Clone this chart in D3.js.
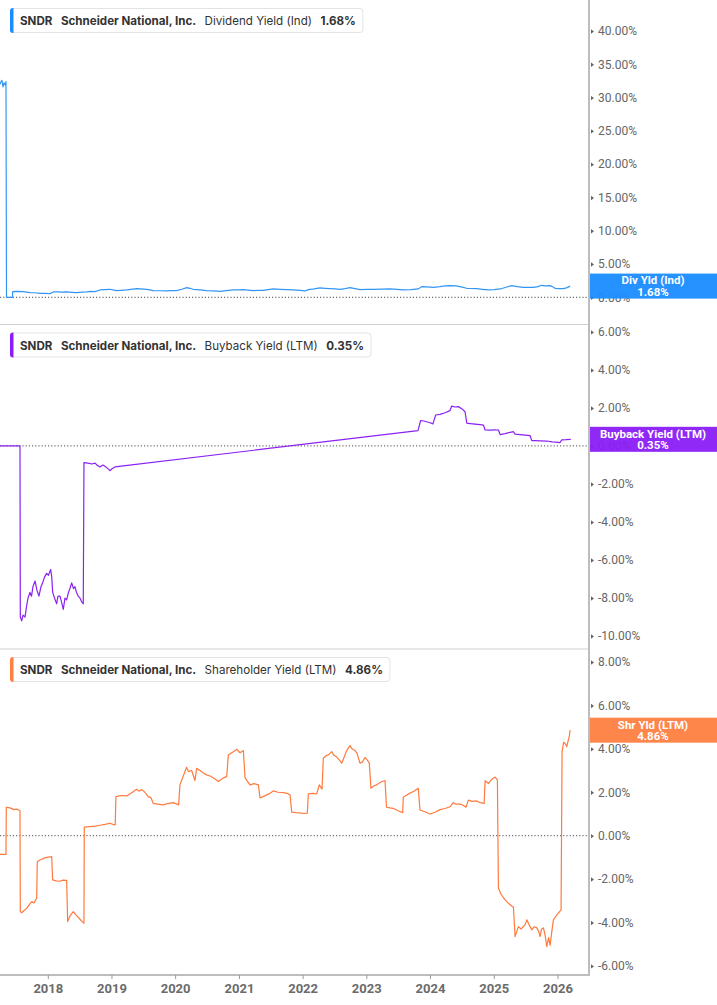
<!DOCTYPE html>
<html>
<head>
<meta charset="utf-8">
<script src="https://cdn.jsdelivr.net/npm/d3@7"></script>
<style>
  html, body { margin: 0; padding: 0; background: #fff; }
  svg { display: block; }
</style>
</head>
<body>
<svg id="chart" width="717" height="1005"></svg>
<script>
// ---------- DATA ----------
const ticker = "SNDR";
const company = "Schneider National, Inc.";

const yearTicks = [2018, 2019, 2020, 2021, 2022, 2023, 2024, 2025, 2026];

// Dividend Yield (Ind), %
const divTitle = "Dividend Yield (Ind)";
const divShort = "Div Yld (Ind)";
const divLast = 1.68;
const divTicks = [0, 5, 10, 15, 20, 25, 30, 35, 40];
const divDates = [2017.249,2017.265,2017.280,2017.296,2017.312,2017.328,2017.343,2017.351,2017.445,2017.448,
  2017.532,2017.615,2017.673,2017.720,2017.799,2017.877,2017.956,2018.034,2018.086,2018.160,
  2018.222,2018.296,2018.380,2018.453,2018.536,2018.610,2018.678,2018.741,2018.819,2018.898,
  2018.976,2019.023,2019.081,2019.149,2019.238,2019.306,2019.395,2019.463,2019.552,2019.604,
  2019.656,2019.761,2019.866,2019.950,2020.023,2020.107,2020.180,2020.232,2020.284,2020.389,
  2020.494,2020.593,2020.703,2020.798,2020.912,2020.986,2021.069,2021.143,2021.226,2021.300,
  2021.383,2021.457,2021.540,2021.645,2021.750,2021.849,2021.959,2022.038,2022.090,2022.179,
  2022.273,2022.352,2022.430,2022.509,2022.587,2022.666,2022.744,2022.823,2022.901,2023.011,
  2023.110,2023.247,2023.372,2023.482,2023.581,2023.702,2023.817,2023.870,2023.953,2024.053,
  2024.158,2024.236,2024.315,2024.409,2024.487,2024.577,2024.644,2024.734,2024.817,2024.916,
  2025.005,2025.100,2025.194,2025.283,2025.366,2025.466,2025.539,2025.623,2025.696,2025.755,
  2025.807,2025.885,2025.932,2025.963,2026.026,2026.094,2026.152,2026.199];
const divValues = [32.0,32.4,32.6,31.6,32.2,31.9,32.4,0,0,0.85,
  0.88,0.85,0.78,0.70,0.68,0.60,0.58,0.55,0.80,0.82,
  0.78,0.80,0.75,0.70,0.78,0.80,0.90,0.85,1.10,1.15,
  1.20,1.10,1.00,1.05,1.10,1.20,1.30,1.25,1.20,1.10,
  1.00,0.98,0.95,1.00,1.00,1.20,1.45,1.35,1.20,1.10,
  1.00,0.95,0.90,1.00,1.10,1.12,1.15,1.08,1.00,1.05,
  1.05,1.15,1.25,1.20,1.15,1.10,1.05,0.95,1.15,1.25,
  1.40,1.35,1.30,1.25,1.20,1.30,1.45,1.30,1.15,1.18,
  1.20,1.22,1.25,1.18,1.10,1.15,1.25,1.60,1.55,1.50,
  1.60,1.70,1.75,1.70,1.55,1.35,1.32,1.30,1.20,1.10,
  1.15,1.25,1.50,1.75,1.60,1.50,1.48,1.50,1.60,1.80,
  1.70,1.75,1.55,1.35,1.30,1.30,1.45,1.68];

// Buyback Yield (LTM), %
const bbTitle = "Buyback Yield (LTM)";
const bbShort = "Buyback Yield (LTM)";
const bbLast = 0.35;
const bbTicks = [-10, -8, -6, -4, -2, 0, 2, 4, 6];
const bbDates = [2017.249,2017.563,2017.568,2017.590,2017.610,2017.642,2017.668,2017.689,2017.720,2017.744,
  2017.767,2017.799,2017.830,2017.861,2017.893,2017.919,2017.948,2017.982,2018.010,2018.045,
  2018.062,2018.076,2018.105,2018.139,2018.160,2018.191,2018.215,2018.243,2018.270,2018.296,
  2018.325,2018.348,2018.375,2018.403,2018.427,2018.450,2018.478,2018.505,2018.532,2018.557,
  2018.568,2018.631,2018.694,2018.741,2018.772,2018.819,2018.866,2018.913,2018.976,2019.008,
  2019.055,2023.812,2023.854,2023.922,2024.000,2024.047,2024.090,2024.158,2024.236,2024.315,
  2024.341,2024.393,2024.445,2024.503,2024.550,2024.577,2024.629,2024.707,2024.786,2024.838,
  2024.864,2024.943,2025.021,2025.073,2025.100,2025.178,2025.257,2025.309,2025.335,2025.414,
  2025.492,2025.571,2025.597,2025.649,2025.728,2025.833,2025.916,2025.979,2026.042,2026.068,
  2026.136,2026.210];
const bbValues = [0,0,-9.0,-9.2,-8.9,-9.0,-8.4,-8.0,-7.7,-7.9,
  -7.4,-7.1,-7.6,-7.9,-7.4,-7.2,-6.9,-6.7,-6.8,-6.5,
  -6.9,-7.7,-8.0,-8.3,-7.9,-7.9,-8.2,-8.6,-8.0,-8.1,
  -7.7,-7.5,-7.2,-7.5,-7.4,-7.7,-7.9,-8.0,-8.2,-8.3,
  -0.88,-0.90,-0.95,-0.90,-1.00,-1.10,-1.00,-1.10,-1.30,-1.20,
  -1.10,0.81,1.34,1.30,1.22,1.16,1.63,1.66,1.75,1.86,
  2.10,2.05,2.07,1.95,1.80,1.20,1.18,1.15,1.12,1.10,
  0.84,0.83,0.85,0.84,0.60,0.65,0.72,0.75,0.62,0.60,
  0.57,0.54,0.28,0.28,0.27,0.26,0.22,0.20,0.18,0.32,
  0.33,0.35];

// Shareholder Yield (LTM), %
const shTitle = "Shareholder Yield (LTM)";
const shShort = "Shr Yld (LTM)";
const shLast = 4.86;
const shTicks = [-6, -4, -2, 0, 2, 4, 6, 8];
const shDates = [2017.249,2017.343,2017.348,2017.406,2017.469,2017.516,2017.563,2017.568,2017.590,2017.626,
  2017.668,2017.704,2017.747,2017.783,2017.825,2017.835,2017.877,2017.929,2017.987,2018.061,
  2018.076,2018.128,2018.191,2018.238,2018.296,2018.312,2018.348,2018.400,2018.442,2018.505,
  2018.536,2018.568,2018.573,2018.662,2018.741,2018.819,2018.898,2018.976,2019.023,2019.059,
  2019.070,2019.149,2019.238,2019.306,2019.395,2019.431,2019.474,2019.526,2019.577,2019.620,
  2019.656,2019.730,2019.813,2019.887,2019.970,2020.055,2020.075,2020.122,2020.180,2020.209,
  2020.259,2020.311,2020.337,2020.389,2020.436,2020.494,2020.546,2020.598,2020.677,2020.755,
  2020.808,2020.834,2020.912,2020.965,2021.017,2021.069,2021.096,2021.174,2021.237,2021.305,
  2021.331,2021.378,2021.437,2021.488,2021.540,2021.614,2021.697,2021.755,2021.802,2021.829,
  2021.897,2021.959,2022.022,2022.074,2022.090,2022.163,2022.221,2022.262,2022.305,2022.325,
  2022.368,2022.404,2022.457,2022.493,2022.536,2022.572,2022.614,2022.650,2022.692,2022.744,
  2022.776,2022.823,2022.854,2022.901,2022.941,2022.980,2023.011,2023.047,2023.074,2023.121,
  2023.164,2023.215,2023.294,2023.318,2023.372,2023.420,2023.498,2023.572,2023.581,2023.624,
  2023.687,2023.749,2023.817,2023.843,2023.922,2024.000,2024.079,2024.158,2024.236,2024.315,
  2024.367,2024.409,2024.472,2024.519,2024.566,2024.602,2024.660,2024.734,2024.786,2024.849,
  2024.864,2024.916,2024.970,2025.021,2025.057,2025.073,2025.115,2025.178,2025.225,2025.283,
  2025.309,2025.335,2025.387,2025.429,2025.492,2025.519,2025.555,2025.597,2025.633,2025.676,
  2025.704,2025.728,2025.751,2025.780,2025.807,2025.833,2025.861,2025.885,2025.908,2025.937,
  2025.979,2026.015,2026.057,2026.073,2026.097,2026.120,2026.147,2026.172,2026.188,2026.199];
const shValues = [-0.86,-0.86,1.31,1.28,1.20,1.22,1.15,-3.50,-3.55,-3.45,
  -3.35,-3.20,-3.04,-3.10,-2.88,-1.20,-1.12,-1.05,-1.00,-0.97,
  -2.04,-2.08,-2.10,-2.05,-2.06,-3.96,-3.70,-3.50,-3.65,-3.85,
  -3.95,-4.04,0.39,0.42,0.44,0.48,0.52,0.57,0.52,0.50,
  1.80,1.85,1.83,1.95,2.14,2.05,2.12,2.00,1.80,1.75,
  1.49,1.45,1.42,1.48,1.52,1.42,2.34,2.70,3.15,2.95,
  3.00,2.54,3.10,3.00,2.90,2.80,2.75,2.67,2.50,2.66,
  2.72,3.72,3.87,3.98,3.82,3.92,2.66,2.34,2.40,2.34,
  1.74,1.80,1.88,1.95,2.06,2.00,1.98,1.95,1.88,1.08,
  1.06,1.05,1.02,1.04,1.93,1.95,1.92,2.34,2.14,3.57,
  3.68,3.72,3.87,3.70,3.62,3.50,3.34,3.60,3.92,4.15,
  4.00,3.92,3.80,3.34,3.40,3.60,3.50,3.34,2.18,2.30,
  2.34,2.45,2.54,1.31,1.28,1.26,1.15,1.06,1.77,1.85,
  1.96,2.05,2.18,1.18,1.10,1.00,1.08,1.20,1.25,1.33,
  1.52,1.45,1.45,1.40,1.31,1.64,1.58,1.60,1.52,1.49,
  2.53,2.40,2.60,2.70,2.57,-2.42,-2.70,-2.96,-3.10,-3.24,
  -3.30,-4.65,-4.19,-4.30,-4.10,-3.88,-4.10,-4.34,-4.20,-4.25,
  -4.40,-4.65,-4.30,-4.25,-4.60,-5.11,-4.70,-5.05,-4.50,-3.88,
  -3.70,-3.57,-3.42,3.87,4.30,4.26,4.10,4.41,4.60,4.87];

// ---------- HELPERS ----------
function decToDate(v) {
  const yr = Math.floor(v);
  const s = Date.UTC(yr, 0, 1), e = Date.UTC(yr + 1, 0, 1);
  return new Date(s + (v - yr) * (e - s));
}
function zip(ds, vs) { return ds.map((d, i) => ({ date: decToDate(d), v: vs[i] })); }

// ---------- LAYOUT ----------
const svg = d3.select("#chart");
const plotRight = 589;
const axisBottomY = 975;

const x = d3.scaleUtc()
  .domain([decToDate(2017.249), decToDate(2026.496)])
  .range([0, plotRight]);

const panels = [
  { top: 0, bottom: 324.5, domain: [-4.09, 44.66], ticks: divTicks, color: "#3396f5", accent: "#1a8cff",
    data: zip(divDates, divValues), title: divTitle, short: divShort, last: divLast },
  { top: 324.5, bottom: 649, domain: [-10.68, 6.39], ticks: bbTicks, color: "#8a22f2", accent: "#8a1cf5",
    data: zip(bbDates, bbValues), title: bbTitle, short: bbShort, last: bbLast },
  { top: 649, bottom: 975, domain: [-6.42, 8.6], ticks: shTicks, color: "#ff7a3d", accent: "#ff8040",
    data: zip(shDates, shValues), title: shTitle, short: shShort, last: shLast }
];

const defs = svg.append("defs");

panels.forEach((p, i) => {
  const y = d3.scaleLinear().domain(p.domain).range([p.bottom, p.top]);
  const g = svg.append("g");

  defs.append("clipPath").attr("id", "clip" + i)
    .append("rect").attr("x", 0).attr("y", p.top).attr("width", plotRight).attr("height", p.bottom - p.top);

  // zero dotted line
  g.append("line")
    .attr("x1", 0).attr("x2", plotRight)
    .attr("y1", y(0)).attr("y2", y(0))
    .attr("stroke", "#707070").attr("stroke-width", 1.2)
    .attr("stroke-dasharray", "1.2,2");

  // series line
  const line = d3.line().x(d => x(d.date)).y(d => y(d.v));
  g.append("path")
    .datum(p.data)
    .attr("clip-path", "url(#clip" + i + ")")
    .attr("fill", "none")
    .attr("stroke", p.color)
    .attr("stroke-width", 1.2)
    .attr("stroke-linejoin", "round")
    .attr("d", line);

  // right axis ticks labels
  const ax = d3.axisRight(y).tickValues(p.ticks).tickSize(0).tickPadding(9)
    .tickFormat(d => d.toFixed(2) + "%");
  const axg = svg.append("g").attr("transform", `translate(${plotRight},0)`).call(ax);
  axg.select(".domain").remove();
  axg.selectAll("text")
    .attr("font-family", "Roboto, 'Liberation Sans', sans-serif")
    .attr("font-size", 12)
    .attr("fill", "#666");
  axg.selectAll(".tick").append("path")
    .attr("d", "M2,-2.2L5,0L2,2.2Z")
    .attr("fill", "#666");

  // separator below panel (except last)
  if (i < panels.length - 1) {
    svg.append("line")
      .attr("x1", 0).attr("x2", plotRight)
      .attr("y1", p.bottom).attr("y2", p.bottom)
      .attr("stroke", "#cfcfcf").attr("stroke-width", 1);
  }

  // right value box
  const cy = y(p.last);
  const bx = svg.append("g");
  bx.append("rect")
    .attr("x", plotRight).attr("y", cy - 12.5)
    .attr("width", 717 - plotRight + 2).attr("height", 25)
    .attr("fill", p.accent).attr("fill-opacity", 0.95);
  const vt = bx.append("text")
    .attr("text-anchor", "middle")
    .attr("font-family", "Roboto, sans-serif").attr("font-weight", 700)
    .attr("font-size", 11.5).attr("fill", "#fff");
  vt.append("tspan").attr("x", 653).attr("y", cy - 1.6).text(p.short);
  vt.append("tspan").attr("x", 653).attr("y", cy + 9.8).text(p.last.toFixed(2) + "%");

  // legend box
  const lg = svg.append("g");
  const boxTop = p.top + 8;
  const rect = lg.append("rect")
    .attr("x", 10.5).attr("y", boxTop + 0.5).attr("height", 24).attr("rx", 3)
    .attr("fill", "#fff").attr("stroke", "#e3e3e3");
  const parts = [
    { t: ticker, w: 700, c: "#333" },
    { t: company, w: 700, c: "#333" },
    { t: p.title, w: 400, c: "#333" },
    { t: p.last.toFixed(2) + "%", w: 700, c: "#333" }
  ];
  let cx = 20;
  parts.forEach(pt => {
    const t = lg.append("text")
      .attr("x", cx).attr("y", boxTop + 17.2)
      .attr("font-family", "Inter, 'Noto Sans', sans-serif")
      .attr("font-size", 11.6).attr("font-weight", pt.w)
      .attr("fill", pt.c).text(pt.t);
    cx += t.node().getComputedTextLength() + 8.5;
  });
  rect.attr("width", cx - 8.5 + 7 - 10.5);
  lg.append("path")
    .attr("d", `M13.5,${boxTop}L13.5,${boxTop + 25}L13,${boxTop + 25}Q10,${boxTop + 25} 10,${boxTop + 22}L10,${boxTop + 3}Q10,${boxTop} 13,${boxTop}Z`)
    .attr("fill", p.accent);
});

// vertical axis line
svg.append("line")
  .attr("x1", plotRight).attr("x2", plotRight)
  .attr("y1", 0).attr("y2", axisBottomY)
  .attr("stroke", "#bdbdbd").attr("stroke-width", 2);

// x axis
const xAxis = d3.axisBottom(x)
  .tickValues(yearTicks.map(yv => new Date(Date.UTC(yv, 0, 1))))
  .tickFormat(d3.utcFormat("%Y"))
  .tickSize(4).tickPadding(5);
const xg = svg.append("g").attr("transform", `translate(0,${axisBottomY})`).call(xAxis);
xg.select(".domain").attr("stroke", "#bdbdbd").attr("stroke-width", 2)
  .attr("d", `M0,0H${plotRight + 1}`);
xg.selectAll(".tick line").attr("stroke", "#9a9a9a");
xg.selectAll("text")
  .attr("font-family", "Roboto, sans-serif")
  .attr("font-size", 13).attr("font-weight", 700)
  .attr("fill", "#6b6b6b");
</script>
</body>
</html>
